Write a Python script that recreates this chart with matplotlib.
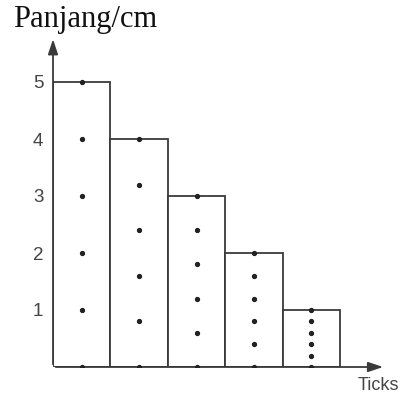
import matplotlib.pyplot as plt
import numpy as np

# bar heights (cm) and number of tick dots on each strip
heights = [5, 4, 3, 2, 1]
dots_per_strip = 6
y_ticks = [1, 2, 3, 4, 5]
y_label = 'Panjang/cm'
x_label = 'Ticks'

LINE = '#3a3a3a'
TXT = '#444444'

fig = plt.figure(figsize=(4.04, 4.00), dpi=100)
ax = fig.add_axes([53 / 404, 33 / 400, 5.8 * 57.4 / 404, 5.8 * 57 / 400])
ax.set_xlim(0, 5.8)
ax.set_ylim(0, 5.8)
for s in ax.spines.values():
    s.set_visible(False)

# strips of tape
for i, h in enumerate(heights):
    ax.bar(i + 0.5, h, width=1.0, facecolor='white', edgecolor=LINE, linewidth=1.3, zorder=2)
    ys = np.linspace(0, h, dots_per_strip)
    ax.plot([i + 0.5] * len(ys), ys, 'o', color='#222222', markersize=2.8, zorder=5)

# axes with arrow heads
ax.annotate('', xy=(0, 5.8), xytext=(0, 0),
            arrowprops=dict(arrowstyle='-|>,head_length=0.9,head_width=0.3', color=LINE, lw=1.3),
            zorder=4)
ax.annotate('', xy=(5.8, 0), xytext=(0, 0),
            arrowprops=dict(arrowstyle='-|>,head_length=0.9,head_width=0.3', color=LINE, lw=1.3),
            zorder=4)

ax.set_xticks([])
ax.set_yticks(y_ticks)
ax.set_yticklabels([str(t) for t in y_ticks], fontsize=13.5, color=TXT,
                   family='Liberation Sans')
ax.tick_params(axis='y', length=0, pad=7)

fig.text(13 / 404, 1 - 19 / 400, y_label, fontsize=22, family='Liberation Serif',
         color='#111111', ha='left', va='center')
fig.text(399 / 404, 1 - 385 / 400, x_label, fontsize=13, family='Liberation Sans',
         color=TXT, ha='right', va='center')

fig.savefig('out.png', dpi=100, facecolor='white')
